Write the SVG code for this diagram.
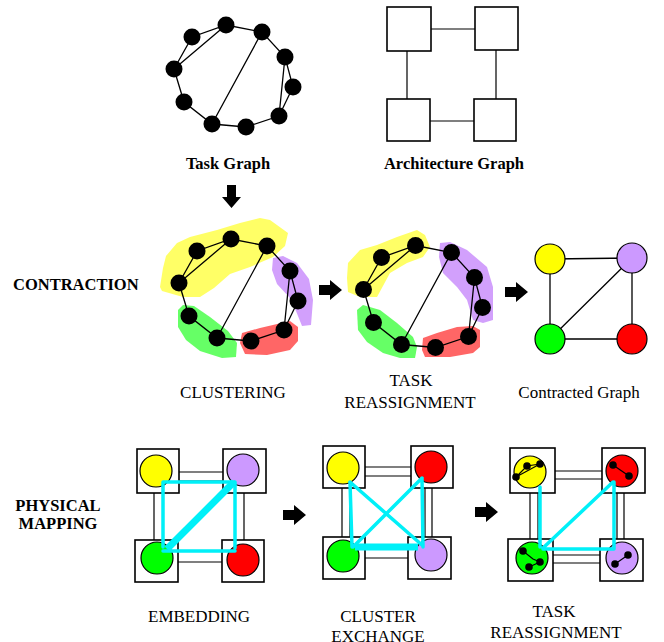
<svg xmlns="http://www.w3.org/2000/svg" width="664" height="642" viewBox="0 0 664 642">
  <style>
    .lbl { font-family: "Liberation Serif", "Times New Roman", serif; font-size: 17px; fill: #000; }
    .bold { font-weight: bold; font-size: 16.5px; }
    .e { stroke: #000; stroke-width: 1.3; fill: none; }
    .t { fill: #000; }
    .box { fill: #fff; stroke: #000; stroke-width: 1.6; }
    .link { stroke: #000; stroke-width: 1.2; fill: none; }
    .cy { stroke: #00F0F8; stroke-width: 3.5; fill: none; stroke-linecap: round; }
    .cyw { stroke: #00F0F8; stroke-width: 7; fill: none; stroke-linecap: butt; }
    .cl { stroke: #000; stroke-width: 1.2; }
    .y { fill: #FFFF00; } .p { fill: #CC99FF; } .g { fill: #00FF00; } .r { fill: #FF0000; }
    .by { fill: #FFFF66; } .bp { fill: #D2A0FC; } .bg { fill: #66FF66; } .br { fill: #FF6666; }
    .arrow { fill: #000; }
    .dot { fill: #000; }
  </style>
  <defs>
    <path id="arrowR" d="M0,-5 L11,-5 L11,-10 L23,0 L11,10 L11,5 L0,5 Z"/>
  </defs>
  <rect width="664" height="642" fill="#fff"/>

  <!-- Task graph -->
  <g id="task-graph">
    <g id="task-edges">
      <path class="e" d="M174,69 L192,37 L226,25 L262,32 L285,57 L293,87 L279,116 L246,127 L212,124 L184,102 Z M174,69 L226,25 M262,32 L212,124 M285,57 L279,116"/>
    </g>
    <g id="task-nodes">
      <circle class="t" cx="192" cy="37" r="8.5"/>
      <circle class="t" cx="226" cy="25" r="8.5"/>
      <circle class="t" cx="262" cy="32" r="8.5"/>
      <circle class="t" cx="285" cy="57" r="8.5"/>
      <circle class="t" cx="293" cy="87" r="8.5"/>
      <circle class="t" cx="279" cy="116" r="8.5"/>
      <circle class="t" cx="246" cy="127" r="8.5"/>
      <circle class="t" cx="212" cy="124" r="8.5"/>
      <circle class="t" cx="184" cy="102" r="8.5"/>
      <circle class="t" cx="174" cy="69" r="8.5"/>
    </g>
    <text class="lbl bold" x="228" y="169" text-anchor="middle">Task Graph</text>
  </g>

  <!-- Architecture graph -->
  <g id="architecture-graph">
    <g id="arch-links">
      <path class="link" stroke-width="1.5" d="M431,29 L475,29 M407,51 L407,99 M496,50 L496,99 M430,121 L474,121"/>
    </g>
    <rect class="box" x="387" y="7" width="44" height="44"/>
    <rect class="box" x="475" y="7" width="43" height="43"/>
    <rect class="box" x="387" y="99" width="43" height="42"/>
    <rect class="box" x="474" y="99" width="42" height="42"/>
    <text class="lbl bold" x="454" y="169" text-anchor="middle">Architecture Graph</text>
  </g>

  <!-- down arrow -->
  <path class="arrow" d="M227,185 L236,185 L236,197 L241,197 L231.5,208 L222,197 L227,197 Z"/>

  <text class="lbl bold" x="13" y="290">CONTRACTION</text>

  <!-- Clustering -->
  <g id="clustering">
    <path class="by" d="M160,287 L163,268 L166,256 L177,243 L190,237 L217,230 L240,223 L260,218 L270,220 L288,233 L285,246 L273,257 L250,267 L230,274 L214,288 L200,297 L183,297 L162,291 Z"/>
    <path class="bp" d="M273,258 L283,256 L297,263 L309,279 L313,300 L311,325 L302,326 L296,311 L289,297 L277,284 L272,270 Z"/>
    <path class="bg" d="M178,310 L183,305 L194,306 L210,317 L228,331 L237,343 L236,357 L222,358 L200,351 L186,340 L178,327 Z"/>
    <path class="br" d="M242,333 L260,328 L290,321 L298,327 L298,341 L290,350 L267,355 L245,354 L240,343 Z"/>
    <g transform="translate(5,214)">
      <path class="e" d="M174,69 L192,37 L226,25 L262,32 L285,57 L293,87 L279,116 L246,127 L212,124 L184,102 Z M174,69 L226,25 M262,32 L212,124 M285,57 L279,116"/>
      <circle class="t" cx="192" cy="37" r="8.5"/>
      <circle class="t" cx="226" cy="25" r="8.5"/>
      <circle class="t" cx="262" cy="32" r="8.5"/>
      <circle class="t" cx="285" cy="57" r="8.5"/>
      <circle class="t" cx="293" cy="87" r="8.5"/>
      <circle class="t" cx="279" cy="116" r="8.5"/>
      <circle class="t" cx="246" cy="127" r="8.5"/>
      <circle class="t" cx="212" cy="124" r="8.5"/>
      <circle class="t" cx="184" cy="102" r="8.5"/>
      <circle class="t" cx="174" cy="69" r="8.5"/>
    </g>
    <text class="lbl" x="233" y="398" text-anchor="middle">CLUSTERING</text>
  </g>

  <use href="#arrowR" x="319" y="290"/>

  <!-- Task reassignment -->
  <g id="task-reassignment">
    <path class="by" d="M348,263 L360,250 L377,245 L397,237 L417,230 L425,235 L430,247 L423,257 L407,263 L390,273 L377,297 L360,297 L348,292 L347,278 Z"/>
    <path class="bp" d="M440,243 L450,242 L467,250 L487,267 L493,287 L493,320 L483,323 L473,320 L467,300 L457,287 L443,273 L439,257 Z"/>
    <path class="bg" d="M357,310 L363,305 L380,310 L397,323 L413,337 L417,347 L415,358 L400,358 L383,353 L367,342 L358,330 Z"/>
    <path class="br" d="M423,338 L437,333 L457,327 L473,326 L480,330 L480,347 L473,353 L450,357 L425,357 L422,350 Z"/>
    <g transform="translate(189.5,220.5)">
      <path class="e" d="M174,69 L192,37 L226,25 L262,32 L285,57 L293,87 L279,116 L246,127 L212,124 L184,102 Z M174,69 L226,25 M262,32 L212,124 M285,57 L279,116"/>
      <circle class="t" cx="192" cy="37" r="8.5"/>
      <circle class="t" cx="226" cy="25" r="8.5"/>
      <circle class="t" cx="262" cy="32" r="8.5"/>
      <circle class="t" cx="285" cy="57" r="8.5"/>
      <circle class="t" cx="293" cy="87" r="8.5"/>
      <circle class="t" cx="279" cy="116" r="8.5"/>
      <circle class="t" cx="246" cy="127" r="8.5"/>
      <circle class="t" cx="212" cy="124" r="8.5"/>
      <circle class="t" cx="184" cy="102" r="8.5"/>
      <circle class="t" cx="174" cy="69" r="8.5"/>
    </g>
    <text class="lbl" x="411" y="386" text-anchor="middle">TASK</text>
    <text class="lbl" x="410" y="408" text-anchor="middle">REASSIGNMENT</text>
  </g>

  <use href="#arrowR" x="505" y="292"/>

  <!-- Contracted graph -->
  <g id="contracted-graph">
    <path class="e" d="M550,259 L632,258 L632,339 L550,339 Z M550,339 L632,258"/>
    <g id="cg-yellow"><circle class="y cl" cx="550" cy="259" r="15"/></g>
    <g id="cg-purple"><circle class="p cl" cx="632" cy="258" r="15"/></g>
    <g id="cg-green"><circle class="g cl" cx="550" cy="339" r="15"/></g>
    <g id="cg-red"><circle class="r cl" cx="632" cy="339" r="15"/></g>
    <text class="lbl" x="579" y="398" text-anchor="middle">Contracted Graph</text>
  </g>

  <text class="lbl bold" x="58" y="511" text-anchor="middle" font-size="16">PHYSICAL</text>
  <text class="lbl bold" x="58" y="529" text-anchor="middle" font-size="16">MAPPING</text>

  <!-- Embedding -->
  <g id="embedding">
    <path class="link" d="M179,472 L223,472 M179,481 L223,481 M154,493 L154,540 M163,493 L163,540 M235,493 L235,540 M244,493 L244,540 M178,551 L222,551 M178,562 L222,562"/>
    <rect class="box" x="137" y="449" width="42" height="44"/>
    <rect class="box" x="223" y="449" width="43" height="44"/>
    <rect class="box" x="135" y="540" width="43" height="42"/>
    <rect class="box" x="222" y="540" width="42" height="42"/>
    <g id="emb-yellow"><circle class="y cl" cx="156" cy="471" r="16"/></g>
    <g id="emb-purple"><circle class="p cl" cx="243" cy="470" r="16"/></g>
    <g id="emb-green"><circle class="g cl" cx="157" cy="558" r="16"/></g>
    <g id="emb-red"><circle class="r cl" cx="243" cy="560" r="16"/></g>
    <g id="emb-connectors">
      <path class="cy" d="M163,482 L234,482 M163,482 L163,547 M235,482 L235,548 M163,551 L235,551"/>
      <path class="cyw" d="M167,549 L234,482"/>
    </g>
    <text class="lbl" x="199" y="622" text-anchor="middle">EMBEDDING</text>
  </g>

  <use href="#arrowR" x="283" y="515"/>

  <!-- Cluster exchange -->
  <g id="cluster-exchange">
    <path class="link" d="M365,467 L411,467 M365,476 L411,476 M342,488 L342,537 M350,488 L350,537 M425,488 L425,537 M432,488 L432,537 M365,547 L408,547 M365,558 L408,558"/>
    <rect class="box" x="323" y="446" width="42" height="42"/>
    <rect class="box" x="411" y="446" width="42" height="42"/>
    <rect class="box" x="323" y="537" width="42" height="42"/>
    <rect class="box" x="408" y="537" width="43" height="42"/>
    <g id="ce-yellow"><circle class="y cl" cx="343" cy="468" r="16"/></g>
    <g id="ce-red"><circle class="r cl" cx="431" cy="467" r="16"/></g>
    <g id="ce-green"><circle class="g cl" cx="343" cy="556" r="16"/></g>
    <g id="ce-purple"><circle class="p cl" cx="431" cy="555" r="16"/></g>
    <g id="ce-connectors">
      <path class="cy" d="M350,482 L352,547 M422,478 L423,547 M350,482 L422,545 M353,547 L422,478"/>
      <path class="cyw" stroke-width="6" d="M355,547 L418,547"/>
    </g>
    <text class="lbl" x="378" y="622" text-anchor="middle">CLUSTER</text>
    <text class="lbl" x="378" y="642" text-anchor="middle">EXCHANGE</text>
  </g>

  <use href="#arrowR" x="475" y="512"/>

  <!-- Task reassignment on the architecture -->
  <g id="physical-reassignment">
    <path class="link" d="M555,471 L602,471 M555,479 L602,479 M530,493 L530,539 M538,493 L538,539 M617,493 L617,539 M624,493 L624,539 M553,555 L600,555 M553,563 L600,563"/>
    <rect class="box" x="510" y="448" width="45" height="45"/>
    <rect class="box" x="602" y="448" width="43" height="45"/>
    <rect class="box" x="508" y="539" width="45" height="42"/>
    <rect class="box" x="600" y="539" width="43" height="42"/>
    <g id="pr-yellow">
      <circle class="y cl" cx="530" cy="472" r="16"/>
      <path class="cl" fill="none" d="M516,477 L527,466 L540,464 Z"/>
      <circle class="dot" cx="516" cy="477" r="3.8"/>
      <circle class="dot" cx="527" cy="466" r="3.8"/>
      <circle class="dot" cx="540" cy="464" r="3.8"/>
    </g>
    <g id="pr-red">
      <circle class="r cl" cx="622" cy="471" r="16"/>
      <path class="cl" d="M613,465 L629,476"/>
      <circle class="dot" cx="613" cy="465" r="3.8"/>
      <circle class="dot" cx="629" cy="476" r="3.8"/>
    </g>
    <g id="pr-green">
      <circle class="g cl" cx="532" cy="558" r="16"/>
      <path class="cl" fill="none" d="M523,551 L533,559 L540,562 L529,567"/>
      <circle class="dot" cx="523" cy="551" r="3.8"/>
      <circle class="dot" cx="540" cy="562" r="3.8"/>
      <circle class="dot" cx="529" cy="567" r="3.8"/>
    </g>
    <g id="pr-purple">
      <circle class="p cl" cx="622" cy="558" r="16"/>
      <path class="cl" d="M615,564 L628,555"/>
      <circle class="dot" cx="615" cy="564" r="3.8"/>
      <circle class="dot" cx="628" cy="555" r="3.8"/>
    </g>
    <g id="pr-connectors">
      <path class="cy" d="M540,487 L540,547 M543,548 L613,482 M614,482 L614,549 M543,549 L613,549"/>
    </g>
    <text class="lbl" x="554" y="617" text-anchor="middle">TASK</text>
    <text class="lbl" x="556" y="638" text-anchor="middle">REASSIGNMENT</text>
  </g>
</svg>
